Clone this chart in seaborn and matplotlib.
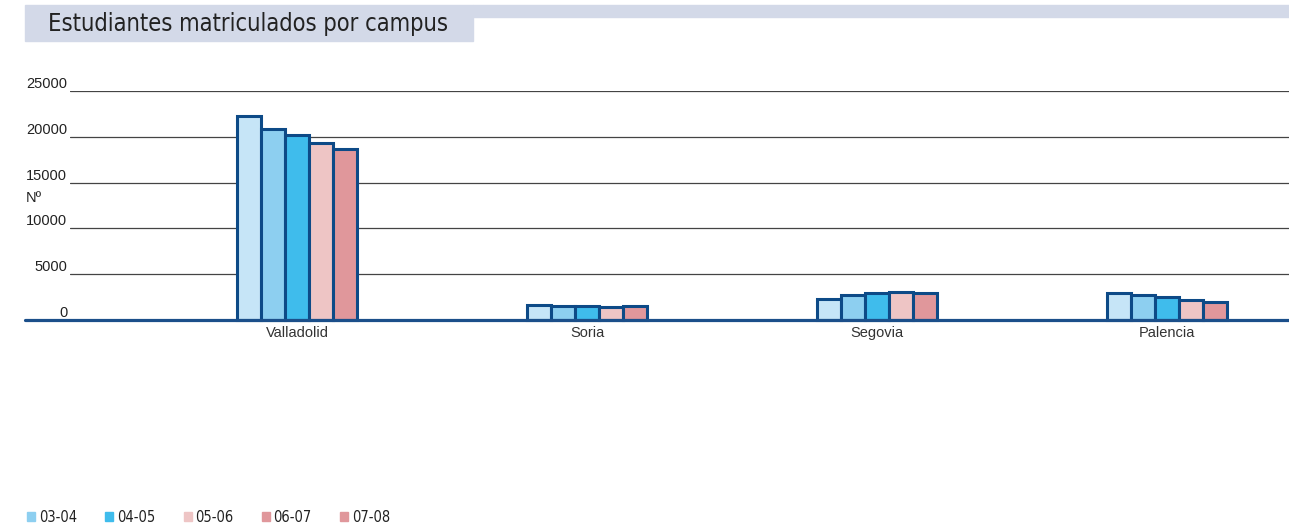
import matplotlib
matplotlib.use("Agg")
import matplotlib.pyplot as plt
import matplotlib.patches as mpatches
import seaborn as sns
import pandas as pd

campus = ["Valladolid", "Soria", "Segovia", "Palencia"]
years = ["03-04", "04-05", "05-06", "06-07", "07-08"]
v_0304 = [22300, 1650, 2300, 2900]
v_0405 = [20900, 1480, 2750, 2700]
v_0506 = [20200, 1480, 3000, 2550]
v_0607 = [19300, 1400, 3050, 2150]
v_0708 = [18700, 1550, 2900, 2000]
yticks = [0, 5000, 10000, 15000, 20000, 25000]

bar_colors = ["#c6e5f7", "#8dcff0", "#3fbcec", "#eec5c5", "#e0979b"]
legend_colors = ["#8dcff0", "#3fbcec", "#eec5c5", "#e0979b", "#e0979b"]

rows = []
for yr, vals in zip(years, [v_0304, v_0405, v_0506, v_0607, v_0708]):
    for c, v in zip(campus, vals):
        rows.append({"campus": c, "year": yr, "n": v})
df = pd.DataFrame(rows)

sns.set_style("white")
plt.rcParams["font.family"] = ["Liberation Sans", "DejaVu Sans"]

W, H = 1289, 523
fig = plt.figure(figsize=(W / 100, H / 100), dpi=100)
ax_l, ax_r, ax_b, ax_t = 70, 1289, 320, 91
ax = fig.add_axes([ax_l / W, 1 - ax_b / H, (ax_r - ax_l) / W, (ax_b - ax_t) / H])

# gridlines
for t in yticks[1:]:
    ax.axhline(t, color="#444444", lw=0.9, zorder=0)

sns.barplot(data=df, x="campus", y="n", hue="year", hue_order=years,
            palette=bar_colors, saturation=1, width=0.414, gap=0,
            edgecolor="#0d4a87", linewidth=2.2, legend=False, ax=ax, zorder=3)
for p in ax.patches:
    p.set_clip_on(False)

ax.set_xlim(-227 / 290, 3 + 122 / 290)
ax.set_ylim(0, 25000)
ax.set_yticks(yticks)
ax.set_yticklabels([str(t) for t in yticks], fontsize=10.5, color="#222222")
for lbl in ax.get_yticklabels():
    lbl.set_verticalalignment("bottom")
ax.tick_params(axis="y", length=0, pad=2)
ax.tick_params(axis="x", length=0, pad=4, labelsize=10.5, labelcolor="#333333")
ax.set_xlabel("")
ax.set_ylabel("")
for s in ax.spines.values():
    s.set_visible(False)

# baseline extending to the left
ax.plot([-(ax_l - 25) / (ax_r - ax_l), 1], [0, 0], transform=ax.get_yaxis_transform(),
        color="#1b4f8a", lw=2.3, clip_on=False, zorder=5)

fig.text(26 / W, 1 - 198 / H, "Nº", fontsize=10.5, color="#222222", va="center", ha="left")

# title band
fig.patches.append(mpatches.Rectangle((25 / W, 1 - 41 / H), (473 - 25) / W, 36 / H,
                                      transform=fig.transFigure, color="#d3d9e8", zorder=0))
fig.patches.append(mpatches.Rectangle((473 / W, 1 - 17 / H), (W - 473) / W, 12 / H,
                                      transform=fig.transFigure, color="#d3d9e8", zorder=0))
fig.text(48 / W, 1 - 24 / H, "Estudiantes matriculados por campus", fontsize=17,
         family="DejaVu Sans", stretch="condensed", color="#222222", va="center", ha="left")

handles = [mpatches.Patch(color=c, label=y) for c, y in zip(legend_colors, years)]
leg = fig.legend(handles=handles, loc="lower left", bbox_to_anchor=(27 / W, -2 / H),
                 ncol=5, frameon=False, handlelength=0.55, handleheight=0.55,
                 handletextpad=0.25, columnspacing=1.95, borderpad=0, borderaxespad=0,
                 prop={"family": "DejaVu Sans", "stretch": "condensed", "size": 10.5})
for t in leg.get_texts():
    t.set_color("#222222")

fig.savefig("out.png", dpi=100)
